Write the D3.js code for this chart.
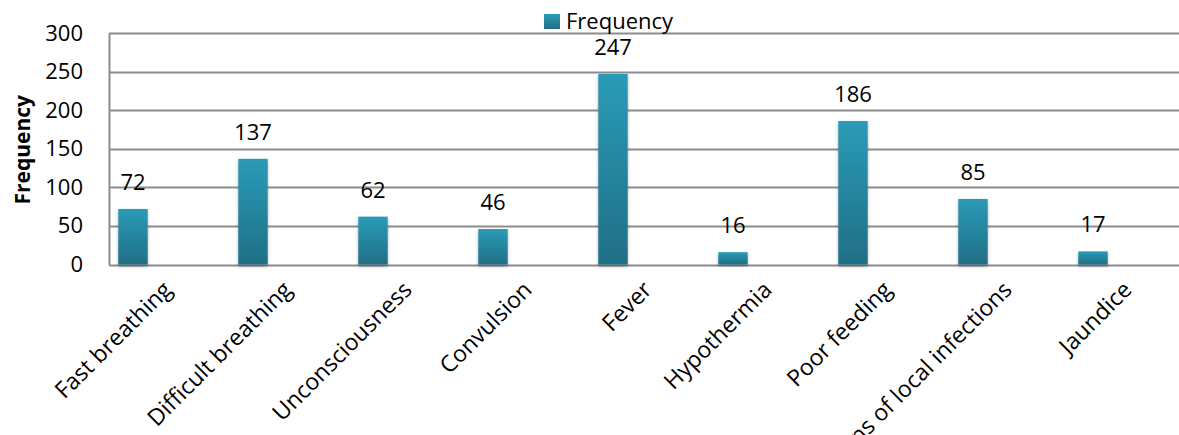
<!DOCTYPE html>
<html>
<head>
<meta charset="utf-8">
<script src="https://cdn.jsdelivr.net/npm/d3@7"></script>
<style>
  body { margin: 0; background: #fff; }
  text { font-family: "Open Sans", "DejaVu Sans", sans-serif; fill: #000; }
</style>
</head>
<body>
<svg id="chart" width="1179" height="435"></svg>
<script>
var categories = ["Fast breathing", "Difficult breathing", "Unconsciousness", "Convulsion",
  "Fever", "Hypothermia", "Poor feeding", "Signs of local infections", "Jaundice"];
var frequency = [72, 137, 62, 46, 247, 16, 186, 85, 17];
var yTicks = [0, 50, 100, 150, 200, 250, 300];

var svg = d3.select("#chart");

// plot box
var plotLeft = 109, plotRight = 1179, plotTop = 33, plotBottom = 264.5;

var x = d3.scaleBand()
  .domain(categories)
  .range([73, 1153])
  .paddingInner(0.755)
  .paddingOuter(0.3775);

var y = d3.scaleLinear()
  .domain([0, 300])
  .range([plotBottom, plotTop]);

var defs = svg.append("defs");
var grad = defs.append("linearGradient")
  .attr("id", "barGrad")
  .attr("x1", 0).attr("y1", 0).attr("x2", 0).attr("y2", 1);
grad.append("stop").attr("offset", "0%").attr("stop-color", "#2b9bb7");
grad.append("stop").attr("offset", "100%").attr("stop-color", "#1f6f86");

var shadow = defs.append("filter").attr("id", "shadow")
  .attr("x", "-30%").attr("y", "-10%").attr("width", "160%").attr("height", "130%");
shadow.append("feDropShadow")
  .attr("dx", 0).attr("dy", 2).attr("stdDeviation", 1.5)
  .attr("flood-color", "#000").attr("flood-opacity", 0.35);

// gridlines
svg.append("g")
  .selectAll("line")
  .data(yTicks)
  .join("line")
    .attr("x1", plotLeft).attr("x2", plotRight)
    .attr("y1", function(d) { return Math.round(y(d)) + 0.5; })
    .attr("y2", function(d) { return Math.round(y(d)) + 0.5; })
    .attr("stroke", "#8c8c8c")
    .attr("stroke-width", 2);

// y axis
var yAxis = svg.append("g")
  .attr("transform", "translate(" + plotLeft + ",0)")
  .call(d3.axisLeft(y).tickValues(yTicks).tickSize(0).tickPadding(26));
yAxis.select(".domain").attr("stroke", "#8c8c8c").attr("stroke-width", 2);
yAxis.selectAll("text")
  .style("font-size", "22px")
  .style("font-family", "'Open Sans', sans-serif")
  .attr("fill", "#000");

svg.append("text")
  .attr("transform", "translate(30," + ((plotTop + plotBottom) / 2 + 1) + ") rotate(-90)")
  .attr("text-anchor", "middle")
  .style("font-size", "21px")
  .style("font-weight", "bold")
  .text("Frequency");

// bars
svg.append("g")
  .selectAll("rect")
  .data(frequency)
  .join("rect")
    .attr("x", function(d, i) { return x(categories[i]); })
    .attr("y", function(d) { return y(d); })
    .attr("width", x.bandwidth())
    .attr("height", function(d) { return y(0) - y(d); })
    .attr("fill", "url(#barGrad)")
    .attr("filter", "url(#shadow)");

// data labels
svg.append("g")
  .selectAll("text")
  .data(frequency)
  .join("text")
    .attr("x", function(d, i) { return x(categories[i]) + x.bandwidth() / 2; })
    .attr("y", function(d) { return y(d) - 19; })
    .attr("text-anchor", "middle")
    .style("font-size", "22px")
    .text(function(d) { return d; });

// x labels, rotated
svg.append("g")
  .selectAll("text")
  .data(categories)
  .join("text")
    .attr("transform", function(d) {
      var cx = x(d) + x.bandwidth() / 2;
      return "translate(" + (cx + 28) + ",279) rotate(-45)";
    })
    .attr("text-anchor", "end")
    .attr("dy", "0.75em")
    .style("font-size", "23px")
    .text(function(d) { return d; });

// legend
var legend = svg.append("g").attr("transform", "translate(544,14)");
legend.append("rect")
  .attr("width", 16).attr("height", 15)
  .attr("fill", "url(#barGrad)");
legend.append("text")
  .attr("x", 22).attr("y", 15)
  .style("font-size", "22px")
  .text("Frequency");
</script>
</body>
</html>
